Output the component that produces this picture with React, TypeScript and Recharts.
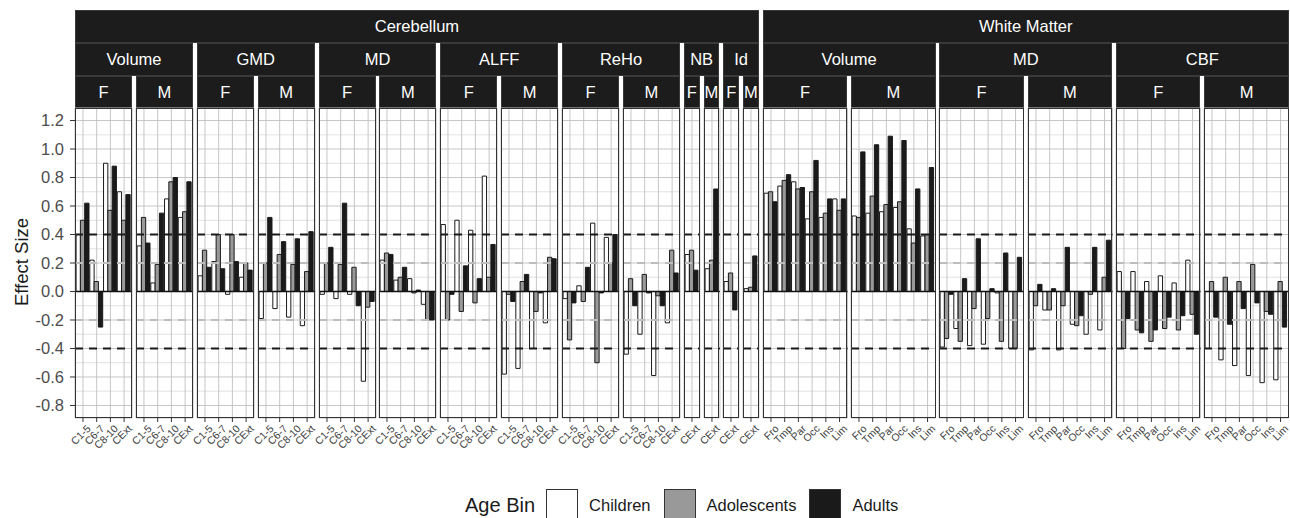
import React from 'react';
import { BarChart, Bar, XAxis, YAxis, CartesianGrid, ReferenceLine } from 'recharts';

const FONT = '"Liberation Sans", Arial, Helvetica, sans-serif';

// ---------- categories ----------
const cerebellumRegions = ['C1-5', 'C6-7', 'C8-10', 'CExt'];
const cerebellumExtOnly = ['CExt'];
const whiteMatterRegions = ['Fro', 'Tmp', 'Par', 'Occ', 'Ins', 'Lim'];
const ageBins = ['Children', 'Adolescents', 'Adults'];
const ageBinFills = ['#ffffff', '#999999', '#1a1a1a'];

// ---------- axis ticks / thresholds ----------
const yTicks = [-0.8, -0.6, -0.4, -0.2, 0, 0.2, 0.4, 0.6, 0.8, 1.0, 1.2];
const yMinorTicks = [-0.7, -0.5, -0.3, -0.1, 0.1, 0.3, 0.5, 0.7, 0.9, 1.1];
const strongThresholds = [-0.4, 0.4];
const moderateThresholds = [-0.2, 0.2];
const Y_DOMAIN: [number, number] = [-0.888, 1.288];

// ---------- effect sizes per region: [Children, Adolescents, Adults] ----------
const cbVolumeF = [[0.40, 0.50, 0.62], [0.22, 0.07, -0.25], [0.90, 0.57, 0.88], [0.70, 0.50, 0.68]];
const cbVolumeM = [[0.32, 0.52, 0.34], [0.06, 0.19, 0.55], [0.65, 0.77, 0.80], [0.52, 0.56, 0.77]];
const cbGmdF = [[0.11, 0.29, 0.17], [0.21, 0.40, 0.16], [-0.02, 0.40, 0.21], [0.10, 0.20, 0.15]];
const cbGmdM = [[-0.19, 0.20, 0.52], [-0.12, 0.26, 0.35], [-0.18, 0.19, 0.37], [-0.24, 0.14, 0.42]];
const cbMdF = [[-0.02, 0.20, 0.31], [-0.05, 0.19, 0.62], [-0.02, 0.17, -0.10], [-0.63, -0.11, -0.07]];
const cbMdM = [[0.22, 0.27, 0.26], [0.08, 0.10, 0.17], [0.09, -0.01, 0.01], [-0.09, -0.20, -0.20]];
const cbAlffF = [[0.47, -0.20, -0.02], [0.50, -0.14, 0.18], [0.43, -0.08, 0.09], [0.81, 0.10, 0.33]];
const cbAlffM = [[-0.58, -0.02, -0.07], [-0.54, 0.07, 0.12], [-0.40, -0.14, -0.01], [-0.22, 0.24, 0.23]];
const cbRehoF = [[-0.05, -0.34, -0.08], [0.04, -0.07, 0.17], [0.48, -0.50, -0.01], [0.38, 0.20, 0.40]];
const cbRehoM = [[-0.44, 0.09, -0.10], [-0.30, 0.12, -0.01], [-0.59, -0.03, -0.10], [-0.22, 0.29, 0.13]];
const cbNbF = [[0.26, 0.29, 0.15]];
const cbNbM = [[0.16, 0.22, 0.72]];
const cbIdF = [[0.07, 0.13, -0.13]];
const cbIdM = [[0.02, 0.03, 0.25]];
const wmVolumeF = [[0.69, 0.70, 0.63], [0.74, 0.78, 0.82], [0.77, 0.72, 0.73], [0.51, 0.70, 0.92], [0.52, 0.55, 0.65], [0.65, 0.57, 0.65]];
const wmVolumeM = [[0.53, 0.52, 0.98], [0.55, 0.67, 1.03], [0.56, 0.61, 1.09], [0.59, 0.63, 1.06], [0.44, 0.34, 0.72], [0.39, 0.40, 0.87]];
const wmMdF = [[-0.39, -0.33, -0.02], [-0.26, -0.35, 0.09], [-0.38, -0.12, 0.37], [-0.37, -0.19, 0.02], [-0.01, -0.35, 0.27], [-0.40, -0.40, 0.24]];
const wmMdM = [[-0.41, -0.10, 0.05], [-0.13, -0.13, 0.02], [-0.41, -0.10, 0.31], [-0.23, -0.24, -0.17], [-0.30, -0.02, 0.31], [-0.27, 0.10, 0.36]];
const wmCbfF = [[0.14, -0.40, -0.19], [0.14, -0.27, -0.29], [0.07, -0.35, -0.27], [0.11, -0.26, -0.18], [0.06, -0.27, -0.17], [0.22, -0.16, -0.30]];
const wmCbfM = [[-0.40, 0.07, -0.18], [-0.48, 0.10, -0.23], [-0.52, 0.07, -0.12], [-0.59, 0.19, -0.08], [-0.64, -0.14, -0.16], [-0.62, 0.07, -0.25]];

// ---------- facet definitions ----------
const panelDefs: [string, string, string, string[], number[][]][] = [
  ['Cerebellum', 'Volume', 'F', cerebellumRegions, cbVolumeF],
  ['Cerebellum', 'Volume', 'M', cerebellumRegions, cbVolumeM],
  ['Cerebellum', 'GMD', 'F', cerebellumRegions, cbGmdF],
  ['Cerebellum', 'GMD', 'M', cerebellumRegions, cbGmdM],
  ['Cerebellum', 'MD', 'F', cerebellumRegions, cbMdF],
  ['Cerebellum', 'MD', 'M', cerebellumRegions, cbMdM],
  ['Cerebellum', 'ALFF', 'F', cerebellumRegions, cbAlffF],
  ['Cerebellum', 'ALFF', 'M', cerebellumRegions, cbAlffM],
  ['Cerebellum', 'ReHo', 'F', cerebellumRegions, cbRehoF],
  ['Cerebellum', 'ReHo', 'M', cerebellumRegions, cbRehoM],
  ['Cerebellum', 'NB', 'F', cerebellumExtOnly, cbNbF],
  ['Cerebellum', 'NB', 'M', cerebellumExtOnly, cbNbM],
  ['Cerebellum', 'Id', 'F', cerebellumExtOnly, cbIdF],
  ['Cerebellum', 'Id', 'M', cerebellumExtOnly, cbIdM],
  ['White Matter', 'Volume', 'F', whiteMatterRegions, wmVolumeF],
  ['White Matter', 'Volume', 'M', whiteMatterRegions, wmVolumeM],
  ['White Matter', 'MD', 'F', whiteMatterRegions, wmMdF],
  ['White Matter', 'MD', 'M', whiteMatterRegions, wmMdM],
  ['White Matter', 'CBF', 'F', whiteMatterRegions, wmCbfF],
  ['White Matter', 'CBF', 'M', whiteMatterRegions, wmCbfM],
];

// ---------- layout ----------
const PLOT_LEFT = 75;
const CAT_W = 13.72;
const EXPAND = 1.1;
const GAP = 3.8;
const PANEL_TOP = 108;
const PANEL_H = 310;
const AXIS_H = 60;
const YAXIS_W = 75;
const STRIP_LEVELS = [
  { top: 10, height: 33 },
  { top: 43, height: 33 },
  { top: 76, height: 32 },
];

type Panel = {
  tissue: string;
  measure: string;
  sex: string;
  regions: string[];
  values: number[][];
  x: number;
  w: number;
};

const panels: Panel[] = (() => {
  let x = PLOT_LEFT;
  return panelDefs.map(([tissue, measure, sex, regions, values]) => {
    const w = regions.length * CAT_W + 2 * EXPAND;
    const p = { tissue, measure, sex, regions, values, x, w };
    x += w + GAP;
    return p;
  });
})();

function groupSpans(keyFn: (p: Panel) => string, labelFn: (p: Panel) => string) {
  const spans: { label: string; x: number; w: number }[] = [];
  let curKey: string | null = null;
  let curLabel = '';
  let curX = 0;
  let curEnd = 0;
  panels.forEach((p) => {
    const k = keyFn(p);
    if (curKey !== null && curKey === k) {
      curEnd = p.x + p.w;
    } else {
      if (curKey !== null) spans.push({ label: curLabel, x: curX, w: curEnd - curX });
      curKey = k;
      curLabel = labelFn(p);
      curX = p.x;
      curEnd = p.x + p.w;
    }
  });
  if (curKey !== null) spans.push({ label: curLabel, x: curX, w: curEnd - curX });
  return spans;
}

const stripRows = [
  groupSpans((p) => p.tissue, (p) => p.tissue),
  groupSpans((p) => p.tissue + '|' + p.measure, (p) => p.measure),
  groupSpans((p) => p.tissue + '|' + p.measure + '|' + p.sex, (p) => p.sex),
];

const RegionTick = (props: any) => {
  const { x, y, payload } = props;
  const ax = x + 3;
  const ay = y;
  return (
    <text
      x={ax}
      y={ay}
      transform={`rotate(-45 ${ax} ${ay})`}
      textAnchor="end"
      dy="0.72em"
      fontSize={10.5}
      fill="#404040"
      fontFamily={FONT}
    >
      {payload.value}
    </text>
  );
};

function PanelChart({ p, first }: { p: Panel; first: boolean }) {
  const rows = p.regions.map((r, i) => {
    const row: any = { region: r };
    ageBins.forEach((b, j) => {
      row[b] = p.values[i][j];
    });
    return row;
  });
  const extra = first ? YAXIS_W : 0;
  return (
    <div style={{ position: 'absolute', left: p.x - extra, top: PANEL_TOP }}>
      <BarChart
        width={p.w + extra}
        height={PANEL_H + AXIS_H}
        data={rows}
        margin={{ top: 0, right: 0, bottom: 0, left: 0 }}
        barCategoryGap="3%"
        barGap={0}
        barSize={4.3}
      >
        <CartesianGrid
          horizontalValues={yMinorTicks}
          vertical={false}
          stroke="#d4d4d4"
          strokeWidth={0.7}
        />
        <CartesianGrid stroke="#bfbfbf" strokeWidth={0.9} />
        <XAxis
          dataKey="region"
          type="category"
          interval={0}
          padding={{ left: EXPAND, right: EXPAND }}
          height={AXIS_H}
          axisLine={false}
          tickLine={{ stroke: '#333333', strokeWidth: 1 }}
          tickSize={4}
          tickMargin={2}
          tick={<RegionTick />}
        />
        <YAxis
          type="number"
          domain={Y_DOMAIN}
          ticks={yTicks}
          allowDataOverflow
          hide={!first}
          width={YAXIS_W}
          axisLine={false}
          tickLine={{ stroke: '#333333', strokeWidth: 1 }}
          tickSize={5}
          tickMargin={6}
          tick={{ fontSize: 16.5, fill: '#4d4d4d', fontFamily: FONT }}
          tickFormatter={(v: number) => v.toFixed(1)}
        />
        {ageBins.map((b, i) => (
          <Bar
            key={b}
            dataKey={b}
            fill={ageBinFills[i]}
            stroke="#1a1a1a"
            strokeWidth={1}
            isAnimationActive={false}
          />
        ))}
        {moderateThresholds.map((v) => (
          <ReferenceLine key={'m' + v} y={v} stroke="#bdbdbd" strokeWidth={1.9} strokeDasharray="8 6" />
        ))}
        {strongThresholds.map((v) => (
          <ReferenceLine key={'s' + v} y={v} stroke="#1a1a1a" strokeWidth={1.9} strokeDasharray="8 6" />
        ))}
        <ReferenceLine y={0} stroke="#111111" strokeWidth={1.4} />
      </BarChart>
      <div
        style={{
          position: 'absolute',
          left: extra,
          top: 0,
          width: p.w,
          height: PANEL_H,
          border: '1px solid #333333',
          boxSizing: 'border-box',
          pointerEvents: 'none',
        }}
      />
    </div>
  );
}

export default function App() {
  return (
    <div
      style={{
        position: 'absolute',
        left: 0,
        top: 0,
        width: 1290,
        height: 518,
        background: '#ffffff',
        fontFamily: FONT,
        overflow: 'hidden',
      }}
    >
      <style>{'.recharts-surface{overflow:visible !important}.recharts-wrapper{overflow:visible !important}'}</style>
      {stripRows.map((row, li) =>
        row.map((s, si) => (
          <div
            key={li + '-' + si}
            style={{
              position: 'absolute',
              left: s.x,
              top: STRIP_LEVELS[li].top,
              width: s.w,
              height: STRIP_LEVELS[li].height,
              background: '#1c1c1c',
              border: '1px solid #3a3a3a',
              boxSizing: 'border-box',
              color: '#ffffff',
              fontSize: 16.5,
              display: 'flex',
              alignItems: 'center',
              justifyContent: 'center',
              whiteSpace: 'nowrap',
              overflow: 'hidden',
            }}
          >
            {s.label}
          </div>
        ))
      )}

      {panels.map((p, i) => (
        <PanelChart key={i} p={p} first={i === 0} />
      ))}

      <svg
        width={40}
        height={518}
        style={{ position: 'absolute', left: 0, top: 0, pointerEvents: 'none' }}
      >
        <text
          x={21}
          y={262}
          transform="rotate(-90 21 262)"
          textAnchor="middle"
          dominantBaseline="central"
          fontSize={18.5}
          fill="#1a1a1a"
          fontFamily={FONT}
        >
          Effect Size
        </text>
      </svg>

      <div
        style={{
          position: 'absolute',
          left: 465,
          top: 489,
          height: 32,
          display: 'flex',
          alignItems: 'center',
          whiteSpace: 'nowrap',
        }}
      >
        <span style={{ fontSize: 20, color: '#1a1a1a', marginRight: 11 }}>Age Bin</span>
        {ageBins.map((b, i) => (
          <React.Fragment key={b}>
            <span
              style={{
                display: 'inline-block',
                width: 32,
                height: 32,
                background: ageBinFills[i],
                border: '1.5px solid #333333',
                boxSizing: 'border-box',
                marginRight: 11,
              }}
            />
            <span style={{ fontSize: 16.5, color: '#1a1a1a', marginRight: 13 }}>{b}</span>
          </React.Fragment>
        ))}
      </div>
    </div>
  );
}
